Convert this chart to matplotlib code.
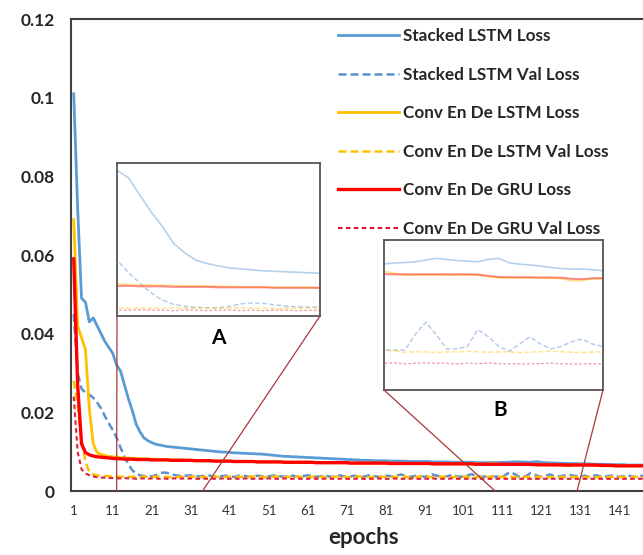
import numpy as np
import matplotlib
matplotlib.use("Agg")
import matplotlib.pyplot as plt
from matplotlib.patches import ConnectionPatch

plt.rcParams['font.family'] = ['Lato', 'DejaVu Sans']

# values, one per epoch (1..150)
stacked_loss = [
    0.101, 0.072, 0.049, 0.048, 0.043, 0.044, 0.042, 0.040, 0.038, 0.0365,
    0.035, 0.032, 0.0305, 0.027, 0.0235, 0.0205, 0.017, 0.0150, 0.0135, 0.0128,
    0.0123, 0.0119, 0.0117, 0.0115, 0.0113, 0.0112, 0.0111, 0.0110, 0.0109, 0.0108,
    0.0107, 0.0106, 0.0105, 0.0104, 0.0103, 0.0102, 0.0101, 0.0100, 0.0099, 0.0099,
    0.0098, 0.0097, 0.0097, 0.0096, 0.0096, 0.0095, 0.0095, 0.0094, 0.0094, 0.0093,
    0.0092, 0.0091, 0.0090, 0.0089, 0.0088, 0.0088, 0.0087, 0.0087, 0.0086, 0.0086,
    0.0085, 0.0085, 0.0084, 0.0084, 0.0083, 0.0083, 0.0082, 0.0082, 0.0081, 0.0081,
    0.0080, 0.0080, 0.0079, 0.0079, 0.0078, 0.0078, 0.0078, 0.0077, 0.0077, 0.0077,
    0.0077, 0.0076, 0.0076, 0.0076, 0.0076, 0.0076, 0.0075, 0.0075, 0.0075, 0.0075,
    0.0075, 0.0075, 0.0074, 0.0074, 0.0074, 0.0074, 0.0074, 0.0073, 0.0073, 0.0073,
    0.0073, 0.0073, 0.0073, 0.0072, 0.0072, 0.0072, 0.0072, 0.0072, 0.00721, 0.00725,
    0.00727, 0.0073, 0.00737, 0.00744, 0.0074, 0.00735, 0.00733, 0.0073, 0.0074, 0.00744,
    0.00726, 0.0072, 0.00717, 0.00712, 0.00707, 0.00702, 0.0070, 0.0070, 0.00697, 0.00693,
    0.0069, 0.0069, 0.0069, 0.0068, 0.0068, 0.0068, 0.0068, 0.0067, 0.0067, 0.0067,
    0.0067, 0.0067, 0.0066, 0.0066, 0.0066, 0.0066, 0.0066, 0.0066, 0.0065, 0.0065,
]
stacked_val = [
    0.045, 0.030, 0.026, 0.025, 0.0245, 0.0237, 0.0225, 0.021, 0.019, 0.0172,
    0.0155, 0.0135, 0.011, 0.0088, 0.0068, 0.0053, 0.0044, 0.0040, 0.0038, 0.0037,
    0.0037, 0.0040, 0.0045, 0.0047, 0.0046, 0.0043, 0.0040, 0.0039, 0.0038, 0.0039,
    0.0040, 0.0038, 0.0037, 0.0038, 0.0040, 0.0039, 0.0037, 0.0036, 0.0038, 0.0039,
    0.0037, 0.0036, 0.0038, 0.0040, 0.0038, 0.0036, 0.0037, 0.0039, 0.0038, 0.0036,
    0.0037, 0.0039, 0.0040, 0.0037, 0.0036, 0.0038, 0.0039, 0.0037, 0.0036, 0.0038,
    0.0040, 0.0038, 0.0036, 0.0037, 0.0039, 0.0038, 0.0036, 0.0037, 0.0040, 0.0038,
    0.0036, 0.0037, 0.0039, 0.0037, 0.0036, 0.0038, 0.0041, 0.0038, 0.0036, 0.0037,
    0.0039, 0.0038, 0.0036, 0.0040, 0.0042, 0.0038, 0.0036, 0.0037, 0.0040, 0.0038,
    0.0036, 0.0039, 0.0042, 0.0039, 0.0037, 0.0036, 0.0038, 0.0041, 0.0038, 0.0036,
    0.0037, 0.0040, 0.0043, 0.0039, 0.0037, 0.0036, 0.0038, 0.0037, 0.00365, 0.00365,
    0.00365, 0.0043, 0.0048, 0.0043, 0.0037, 0.0037, 0.0038, 0.0045, 0.0042, 0.0038,
    0.0036, 0.0039, 0.0042, 0.0039, 0.0037, 0.0038, 0.0040, 0.0041, 0.0039, 0.0038,
    0.0037, 0.0039, 0.0036, 0.0038, 0.0040, 0.0037, 0.0036, 0.0038, 0.0039, 0.0037,
    0.0036, 0.0038, 0.0040, 0.0037, 0.0036, 0.0038, 0.0039, 0.0037, 0.0036, 0.0038,
]
conv_lstm_loss = [
    0.069, 0.042, 0.039, 0.036, 0.021, 0.012, 0.0098, 0.0093, 0.0090, 0.0088,
    0.0087, 0.0086, 0.0085, 0.0084, 0.0084, 0.0083, 0.0083, 0.0082, 0.0082, 0.0082,
    0.0081, 0.0081, 0.0080, 0.0080, 0.0080, 0.0079, 0.0079, 0.0079, 0.0079, 0.0078,
    0.0078, 0.0078, 0.0077, 0.0077, 0.0077, 0.0077, 0.0076, 0.0076, 0.0076, 0.0076,
    0.0076, 0.0075, 0.0075, 0.0075, 0.0075, 0.0075, 0.0075, 0.0074, 0.0074, 0.0074,
    0.0074, 0.0074, 0.0074, 0.0074, 0.0073, 0.0073, 0.0073, 0.0073, 0.0073, 0.0073,
    0.0073, 0.0073, 0.0072, 0.0072, 0.0072, 0.0072, 0.0072, 0.0072, 0.0072, 0.0072,
    0.0072, 0.0071, 0.0071, 0.0071, 0.0071, 0.0071, 0.0071, 0.0071, 0.0071, 0.0071,
    0.0071, 0.0070, 0.0070, 0.0070, 0.0070, 0.0070, 0.0070, 0.0070, 0.0070, 0.0070,
    0.0070, 0.0070, 0.0069, 0.0069, 0.0069, 0.0069, 0.0069, 0.0069, 0.0069, 0.0069,
    0.0069, 0.0069, 0.0069, 0.0068, 0.0068, 0.0068, 0.0068, 0.0069, 0.0069, 0.00682,
    0.00675, 0.00675, 0.00676, 0.00676, 0.00675, 0.00675, 0.00676, 0.00676, 0.00668, 0.00664,
    0.00663, 0.00663, 0.00664, 0.00662, 0.00662, 0.0066, 0.00652, 0.00652, 0.0066, 0.0066,
    0.0066, 0.0065, 0.0066, 0.0065, 0.0065, 0.0065, 0.0065, 0.0065, 0.0064, 0.0064,
    0.0064, 0.0064, 0.0064, 0.0064, 0.0064, 0.0064, 0.0064, 0.0064, 0.0064, 0.0064,
]
conv_lstm_val = [
    0.028, 0.022, 0.013, 0.0075, 0.0048, 0.0042, 0.0040, 0.0039, 0.0038, 0.0038,
    0.0037, 0.0037, 0.0036, 0.0037, 0.0036, 0.0036, 0.0037, 0.0036, 0.0036, 0.0037,
    0.0036, 0.0036, 0.0037, 0.0036, 0.0036, 0.0035, 0.0036, 0.0036, 0.0037, 0.0036,
    0.0036, 0.0037, 0.0036, 0.0035, 0.0036, 0.0036, 0.0037, 0.0036, 0.0035, 0.0036,
    0.0036, 0.0037, 0.0036, 0.0036, 0.0035, 0.0036, 0.0037, 0.0036, 0.0036, 0.0035,
    0.0036, 0.0036, 0.0037, 0.0036, 0.0035, 0.0036, 0.0036, 0.0037, 0.0036, 0.0036,
    0.0035, 0.0036, 0.0037, 0.0036, 0.0036, 0.0035, 0.0036, 0.0036, 0.0037, 0.0036,
    0.0035, 0.0036, 0.0036, 0.0037, 0.0036, 0.0036, 0.0035, 0.0036, 0.0037, 0.0036,
    0.0036, 0.0035, 0.0036, 0.0036, 0.0037, 0.0036, 0.0035, 0.0036, 0.0036, 0.0037,
    0.0036, 0.0036, 0.0035, 0.0036, 0.0037, 0.0036, 0.0036, 0.0035, 0.0036, 0.0036,
    0.0037, 0.0036, 0.0035, 0.0036, 0.0036, 0.0037, 0.0036, 0.0036, 0.00364, 0.00362,
    0.00356, 0.00358, 0.00357, 0.00355, 0.00358, 0.00357, 0.0036, 0.00358, 0.00356, 0.00357,
    0.00358, 0.00355, 0.00356, 0.00358, 0.0036, 0.00358, 0.00356, 0.00355, 0.00357, 0.00356,
    0.0036, 0.0035, 0.0036, 0.0036, 0.0035, 0.0036, 0.0036, 0.0035, 0.0036, 0.0036,
    0.0035, 0.0036, 0.0036, 0.0035, 0.0036, 0.0036, 0.0035, 0.0036, 0.0036, 0.0035,
]
conv_gru_loss = [
    0.059, 0.027, 0.012, 0.0098, 0.0092, 0.0089, 0.0087, 0.0086, 0.0085, 0.0084,
    0.0083, 0.0082, 0.0082, 0.0081, 0.0081, 0.0081, 0.0080, 0.0080, 0.0080, 0.0080,
    0.0079, 0.0079, 0.0079, 0.0079, 0.0079, 0.0078, 0.0078, 0.0078, 0.0078, 0.0078,
    0.0078, 0.0077, 0.0077, 0.0077, 0.0077, 0.0077, 0.0076, 0.0076, 0.0076, 0.0076,
    0.0076, 0.0075, 0.0075, 0.0075, 0.0075, 0.0075, 0.0075, 0.0074, 0.0074, 0.0074,
    0.0074, 0.0074, 0.0074, 0.0074, 0.0073, 0.0073, 0.0073, 0.0073, 0.0073, 0.0073,
    0.0073, 0.0073, 0.0072, 0.0072, 0.0072, 0.0072, 0.0072, 0.0072, 0.0072, 0.0072,
    0.0072, 0.0071, 0.0071, 0.0071, 0.0071, 0.0071, 0.0071, 0.0071, 0.0071, 0.0071,
    0.0071, 0.0070, 0.0070, 0.0070, 0.0070, 0.0070, 0.0070, 0.0070, 0.0070, 0.0070,
    0.0070, 0.0070, 0.0069, 0.0069, 0.0069, 0.0069, 0.0069, 0.0069, 0.0069, 0.0069,
    0.0069, 0.0069, 0.0069, 0.0068, 0.0068, 0.0068, 0.0068, 0.0068, 0.00679, 0.00678,
    0.00678, 0.00678, 0.00678, 0.00678, 0.00678, 0.00678, 0.00678, 0.00677, 0.00672, 0.00667,
    0.00666, 0.00666, 0.00666, 0.00665, 0.00665, 0.00664, 0.0066, 0.00658, 0.00662, 0.00662,
    0.0066, 0.0066, 0.0066, 0.0066, 0.0066, 0.0065, 0.0065, 0.0065, 0.0065, 0.0064,
    0.0064, 0.0064, 0.0064, 0.0064, 0.0064, 0.0064, 0.0064, 0.0064, 0.0064, 0.0064,
]
conv_gru_val = [
    0.024, 0.010, 0.0055, 0.0045, 0.0040, 0.0037, 0.0035, 0.0034, 0.0034, 0.0033,
    0.0033, 0.0032, 0.0032, 0.0033, 0.0032, 0.0032, 0.0031, 0.0032, 0.0032, 0.0031,
    0.0032, 0.0032, 0.0031, 0.0032, 0.0031, 0.0032, 0.0032, 0.0031, 0.0032, 0.0031,
    0.0032, 0.0031, 0.0031, 0.0032, 0.0031, 0.0032, 0.0031, 0.0031, 0.0032, 0.0031,
    0.0031, 0.0032, 0.0031, 0.0031, 0.0032, 0.0031, 0.0031, 0.0032, 0.0031, 0.0031,
    0.0032, 0.0031, 0.0031, 0.0031, 0.0032, 0.0031, 0.0031, 0.0032, 0.0031, 0.0031,
    0.0031, 0.0032, 0.0031, 0.0031, 0.0031, 0.0032, 0.0031, 0.0031, 0.0031, 0.0032,
    0.0031, 0.0031, 0.0031, 0.0032, 0.0031, 0.0031, 0.0031, 0.0031, 0.0032, 0.0031,
    0.0031, 0.0031, 0.0032, 0.0031, 0.0031, 0.0031, 0.0031, 0.0032, 0.0031, 0.0031,
    0.0031, 0.0031, 0.0032, 0.0031, 0.0031, 0.0031, 0.0031, 0.0032, 0.0031, 0.0031,
    0.0031, 0.0031, 0.0032, 0.0031, 0.0031, 0.0031, 0.0031, 0.0031, 0.00311, 0.00312,
    0.00308, 0.00311, 0.00312, 0.00311, 0.0031, 0.00308, 0.00311, 0.00309, 0.00311, 0.00309,
    0.00308, 0.00308, 0.00308, 0.00309, 0.00311, 0.00308, 0.00308, 0.00308, 0.00308, 0.00309,
    0.0031, 0.0031, 0.0031, 0.0031, 0.0031, 0.0031, 0.0031, 0.0031, 0.0031, 0.0031,
    0.0031, 0.0031, 0.0031, 0.0031, 0.0031, 0.0031, 0.0031, 0.0031, 0.0031, 0.0031,
]

labels = ["Stacked LSTM Loss", "Stacked LSTM Val Loss",
          "Conv En De LSTM Loss", "Conv En De LSTM Val Loss",
          "Conv En De GRU Loss", "Conv En De GRU Val Loss"]
series = [stacked_loss, stacked_val, conv_lstm_loss, conv_lstm_val,
          conv_gru_loss, conv_gru_val]
colors = ["#5B9BD5", "#5B8FD0", "#FFC000", "#FFC000", "#FF0000", "#E0203A"]
widths = [2.0, 1.8, 2.0, 1.8, 2.4, 1.5]
dashes = [None, (3.2, 1.6), None, (3.2, 1.6), None, (2.2, 1.6)]

x_ticks = list(range(1, 151, 10))
y_ticks = [0, 0.02, 0.04, 0.06, 0.08, 0.1, 0.12]
y_tick_labels = ["0", "0.02", "0.04", "0.06", "0.08", "0.1", "0.12"]

# zoom windows (epochs) for the insets and where their guide lines land
zoom_a = (12, 30, 0.002, 0.0335)
zoom_a_feet = (12, 34)
zoom_b = (109, 130, 0.002, 0.0082)
zoom_b_feet = (109, 130)


def draw_series(axis, lw_scale=1.0, alpha=1.0, with_labels=True):
    for lab, vals, col, lw, ds in zip(labels, series, colors, widths, dashes):
        ep = np.arange(1, len(vals) + 1)
        kw = dict(color=col, lw=lw * lw_scale, alpha=alpha)
        if with_labels:
            kw["label"] = lab
        line, = axis.plot(ep, vals, **kw)
        if ds is not None:
            line.set_dashes(ds)


fig = plt.figure(figsize=(6.43, 5.55), dpi=100)
ax = fig.add_axes([71 / 643, 64 / 555, 586 / 643, 472 / 555])

draw_series(ax)
ax.set_xlim(0.3, 150.5)
ax.set_ylim(0, 0.12)
ax.set_xticks(x_ticks)
ax.set_yticks(y_ticks)
ax.set_yticklabels(y_tick_labels, fontsize=12.5, fontweight="bold", color="#262626")
for t in ax.get_xticklabels():
    t.set_fontsize(9.5)
    t.set_color("#333333")
ax.tick_params(length=0)
ax.tick_params(axis="y", pad=11.5)
ax.tick_params(axis="x", pad=10)
ax.set_xlabel("epochs", fontsize=16, fontweight="bold", color="#262626", labelpad=7)
for sp in ax.spines.values():
    sp.set_color("#404040")
    sp.set_linewidth(1.5)

leg = ax.legend(loc="upper left", bbox_to_anchor=(338 / 643, 1 - 28 / 555),
                bbox_transform=fig.transFigure, frameon=False,
                prop={"weight": "bold", "size": 12.3},
                handlelength=3.55, handletextpad=0.25, labelspacing=1.32,
                borderpad=0, borderaxespad=0)
for t in leg.get_texts():
    t.set_color("#262626")

# inset A
ax_a = fig.add_axes([117 / 643, 1 - 316 / 555, 203 / 643, 153 / 555])
draw_series(ax_a, lw_scale=0.6, alpha=0.45, with_labels=False)
ax_a.set_xlim(zoom_a[0], zoom_a[1])
ax_a.set_ylim(zoom_a[2], zoom_a[3])
ax_a.text(0.5, -0.145, "A", transform=ax_a.transAxes, ha="center", va="center",
          fontsize=15, fontweight="bold")

# inset B
ax_b = fig.add_axes([384 / 643, 1 - 390 / 555, 219 / 643, 150 / 555])
draw_series(ax_b, lw_scale=0.6, alpha=0.45, with_labels=False)
ax_b.set_xlim(zoom_b[0], zoom_b[1])
ax_b.set_ylim(zoom_b[2], zoom_b[3])
ax_b.text(0.53, -0.135, "B", transform=ax_b.transAxes, ha="center", va="center",
          fontsize=15, fontweight="bold")

for a in (ax_a, ax_b):
    a.set_xticks([])
    a.set_yticks([])
    a.set_facecolor("white")
    for sp in a.spines.values():
        sp.set_color("#555555")
        sp.set_linewidth(1.3)

# guide lines from inset corners down to the x axis
for a, feet in ((ax_a, zoom_a_feet), (ax_b, zoom_b_feet)):
    for corner, ep in zip((0, 1), feet):
        con = ConnectionPatch(xyA=(corner, 0), coordsA=a.transAxes,
                              xyB=(ep, 0), coordsB=ax.transData,
                              color="#A8383A", lw=0.9)
        fig.add_artist(con)

fig.savefig("out.png", dpi=100)
